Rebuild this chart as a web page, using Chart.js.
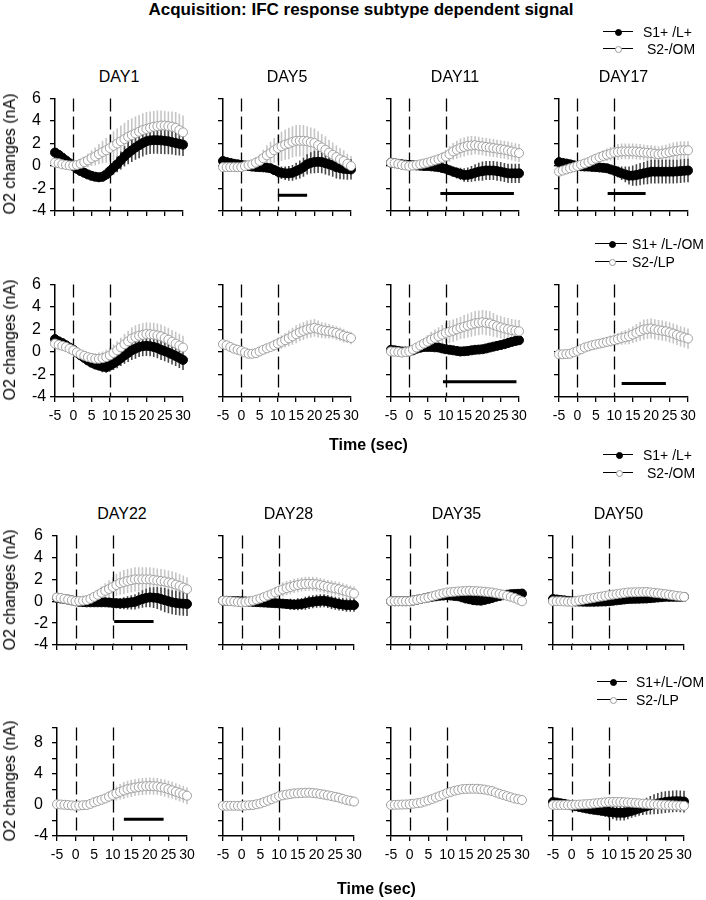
<!DOCTYPE html>
<html>
<head>
<meta charset="utf-8">
<script src="https://cdn.jsdelivr.net/npm/chart.js@4.4.0/dist/chart.umd.min.js"></script>
<style>
  body { margin: 0; background: #fff; font-family: Arial, "Liberation Sans", sans-serif; }
  #page { position: relative; width: 706px; height: 900px; overflow: hidden; }
  #page canvas { position: absolute; }
  .txt { position: absolute; white-space: pre; color: #000; line-height: 1; }
  .ytitle { position: absolute; white-space: nowrap; font-size: 16px; transform: translate(-50%, -50%) rotate(-90deg); }
  .lg-line { position: absolute; height: 0; border-top: 1.5px solid #000; }
  .lg-dot { position: absolute; width: 7px; height: 7px; border-radius: 50%; box-sizing: border-box; }
</style>
</head>
<body>
<div id="page"></div>
<script>
// time axis (sec)
const times = [-5,-4,-3,-2,-1,0,1,2,3,4,5,6,7,8,9,10,11,12,13,14,15,16,17,18,19,20,21,22,23,24,25,26,27,28,29,30];
const xTicks = [-5, 0, 5, 10, 15, 20, 25, 30];

// upper block of each half: S1+ /L+ (fill) vs S2-/OM (open)
const d1_a_fill = [1.2,1.0,0.75,0.5,0.25,0.0, -0.25,-0.45,-0.6,-0.75,-0.87,-0.95,-1.0,-0.95,-0.75,-0.45, -0.15,0.15,0.5,0.85,1.15,1.4,1.65,1.85,2.05,2.2, 2.28,2.3,2.3,2.28,2.25,2.2,2.12,2.05,1.98,1.9];
const d1_a_fill_err = [0.15,0.15,0.15,0.15,0.15,0.15, 0.2,0.25,0.3,0.3,0.35,0.35,0.4,0.45,0.5,0.55, 0.6,0.7,0.8,0.9,1.0,1.05,1.1,1.15,1.2,1.2, 1.2,1.2,1.2,1.2,1.2,1.15,1.1,1.1,1.05,1.0];
const d1_a_open = [0.3,0.25,0.15,0.1,0.05,0.05, 0.1,0.2,0.35,0.5,0.7,0.85,1.05,1.25,1.4,1.6, 1.8,2.0,2.2,2.4,2.6,2.75,2.9,3.05,3.2,3.3, 3.4,3.5,3.55,3.6,3.6,3.55,3.5,3.4,3.2,3.0];
const d1_a_open_err = [0.2,0.2,0.2,0.2,0.2,0.2, 0.3,0.4,0.5,0.6,0.7,0.8,0.9,1.0,1.1,1.2, 1.3,1.35,1.4,1.45,1.5,1.5,1.5,1.5,1.5,1.5, 1.45,1.4,1.4,1.35,1.3,1.3,1.35,1.4,1.45,1.5];

const d5_a_fill = [0.45,0.35,0.28,0.2,0.15,0.1, 0.05,0.0,-0.05,-0.08,-0.1,-0.12,-0.15,-0.2,-0.35,-0.5, -0.6,-0.65,-0.65,-0.6,-0.45,-0.3,-0.1,0.15,0.28,0.35, 0.38,0.35,0.25,0.15,0.05,-0.1,-0.18,-0.25,-0.28,-0.3];
const d5_a_fill_err = [0.15,0.15,0.15,0.15,0.15,0.15, 0.2,0.2,0.25,0.25,0.3,0.3,0.35,0.4,0.45,0.5, 0.55,0.6,0.65,0.7,0.75,0.8,0.85,0.9,0.95,1.0, 1.0,1.0,1.0,1.0,1.0,1.0,1.0,0.95,0.95,0.9];
const d5_a_open = [-0.1,-0.1,-0.1,-0.1,-0.1,-0.1, 0.0,0.08,0.15,0.3,0.45,0.7,0.95,1.15,1.4,1.6, 1.75,1.9,2.0,2.15,2.25,2.25,2.25,2.2,2.12,2.05, 1.85,1.65,1.45,1.2,1.0,0.8,0.6,0.45,0.2,0.0];
const d5_a_open_err = [0.15,0.15,0.15,0.15,0.15,0.15, 0.2,0.3,0.4,0.5,0.6,0.75,0.9,1.0,1.1,1.2, 1.3,1.35,1.4,1.4,1.4,1.4,1.4,1.35,1.3,1.3, 1.25,1.2,1.2,1.15,1.1,1.05,1.0,0.95,0.9,0.9];

const d11_a_fill = [0.3,0.25,0.2,0.15,0.12,0.1, 0.08,0.05,0.03,0.0,0.0,-0.03,-0.06,-0.1,-0.18,-0.25, -0.38,-0.5,-0.6,-0.7,-0.8,-0.78,-0.7,-0.6,-0.5,-0.45, -0.4,-0.4,-0.4,-0.45,-0.5,-0.58,-0.65,-0.65,-0.65,-0.65];
const d11_a_fill_err = [0.15,0.15,0.15,0.15,0.15,0.15, 0.15,0.15,0.15,0.15,0.15,0.2,0.2,0.25,0.3,0.35, 0.4,0.45,0.5,0.55,0.6,0.65,0.7,0.75,0.8,0.85, 0.85,0.85,0.85,0.85,0.85,0.85,0.85,0.85,0.85,0.85];
const d11_a_open = [0.3,0.25,0.18,0.1,0.05,0.0, 0.05,0.1,0.15,0.22,0.3,0.4,0.5,0.6,0.72,0.85, 1.05,1.3,1.45,1.6,1.7,1.8,1.83,1.85,1.8,1.75, 1.7,1.65,1.6,1.55,1.5,1.45,1.38,1.3,1.22,1.15];
const d11_a_open_err = [0.15,0.15,0.15,0.15,0.15,0.15, 0.15,0.15,0.15,0.2,0.25,0.3,0.35,0.4,0.5,0.6, 0.7,0.75,0.8,0.85,0.85,0.85,0.85,0.8,0.8,0.8, 0.8,0.8,0.8,0.8,0.8,0.8,0.8,0.8,0.8,0.8];

const d17_a_fill = [0.35,0.28,0.22,0.15,0.07,0.0, -0.02,-0.04,-0.05,-0.08,-0.1,-0.13,-0.16,-0.2,-0.3,-0.4, -0.52,-0.65,-0.75,-0.85,-0.85,-0.8,-0.72,-0.65,-0.58,-0.5, -0.5,-0.5,-0.5,-0.5,-0.5,-0.5,-0.48,-0.45,-0.42,-0.4];
const d17_a_fill_err = [0.15,0.15,0.15,0.15,0.15,0.15, 0.2,0.2,0.2,0.25,0.25,0.3,0.3,0.35,0.4,0.45, 0.5,0.6,0.7,0.8,0.9,0.95,1.0,1.0,1.05,1.05, 1.05,1.05,1.05,1.05,1.05,1.05,1.05,1.05,1.05,1.05];
const d17_a_open = [-0.5,-0.4,-0.3,-0.2,-0.1,0.0, 0.12,0.23,0.35,0.5,0.65,0.78,0.9,1.0,1.1,1.2, 1.25,1.3,1.3,1.3,1.3,1.28,1.25,1.2,1.18,1.15, 1.1,1.05,1.1,1.15,1.22,1.3,1.35,1.4,1.4,1.4];
const d17_a_open_err = [0.15,0.15,0.15,0.15,0.15,0.15, 0.2,0.25,0.3,0.35,0.4,0.45,0.5,0.55,0.6,0.65, 0.7,0.7,0.7,0.7,0.7,0.7,0.7,0.7,0.7,0.7, 0.7,0.7,0.72,0.75,0.78,0.8,0.8,0.8,0.8,0.8];

// lower block: S1+ /L-/OM (fill) vs S2-/LP (open)
const d1_b_fill = [1.15,0.95,0.8,0.6,0.4,0.2, -0.05,-0.3,-0.52,-0.75,-0.95,-1.1,-1.2,-1.3,-1.35,-1.2, -1.0,-0.8,-0.55,-0.3,-0.08,0.15,0.3,0.45,0.52,0.55, 0.52,0.45,0.35,0.2,0.08,-0.05,-0.2,-0.35,-0.52,-0.7];
const d1_b_fill_err = [0.15,0.15,0.15,0.15,0.15,0.15, 0.2,0.25,0.3,0.35,0.4,0.45,0.45,0.5,0.5,0.55, 0.6,0.65,0.7,0.75,0.8,0.85,0.9,0.9,0.9,0.9, 0.9,0.9,0.9,0.9,0.9,0.9,0.9,0.9,0.9,0.9];
const d1_b_open = [0.75,0.65,0.55,0.45,0.3,0.15, -0.02,-0.2,-0.33,-0.45,-0.53,-0.6,-0.6,-0.55,-0.45,-0.3, -0.08,0.15,0.42,0.7,0.95,1.2,1.33,1.45,1.53,1.6, 1.58,1.55,1.48,1.4,1.25,1.1,0.92,0.75,0.58,0.4];
const d1_b_open_err = [0.2,0.2,0.2,0.2,0.2,0.2, 0.25,0.3,0.35,0.4,0.45,0.5,0.55,0.6,0.65,0.7, 0.75,0.8,0.85,0.9,0.95,1.0,1.05,1.05,1.05,1.05, 1.05,1.05,1.05,1.05,1.05,1.05,1.05,1.05,1.05,1.05];

const d5_b_open = [0.7,0.6,0.45,0.3,0.2,0.1, -0.03,-0.15,-0.15,-0.1,0.05,0.2,0.33,0.45,0.6,0.75, 0.9,1.05,1.22,1.4,1.58,1.75,1.88,2.0,2.08,2.15, 2.05,1.95,1.9,1.85,1.78,1.7,1.58,1.45,1.35,1.25];
const d5_b_open_err = [0.15,0.15,0.15,0.15,0.15,0.15, 0.15,0.15,0.2,0.25,0.3,0.35,0.4,0.45,0.5,0.55, 0.6,0.65,0.7,0.75,0.8,0.8,0.8,0.8,0.8,0.8, 0.75,0.7,0.7,0.65,0.6,0.6,0.6,0.6,0.55,0.55];

const d11_b_fill = [0.2,0.15,0.1,0.05,0.05,0.05, 0.15,0.3,0.38,0.45,0.45,0.45,0.42,0.4,0.32,0.25, 0.2,0.15,0.1,0.05,0.07,0.1,0.15,0.2,0.22,0.25, 0.32,0.4,0.48,0.55,0.62,0.7,0.8,0.9,0.98,1.05];
const d11_b_fill_err = [0.15,0.15,0.15,0.15,0.15,0.15, 0.15,0.15,0.15,0.15,0.15,0.15,0.15,0.15,0.15,0.25, 0.25,0.25,0.25,0.25,0.25,0.25,0.25,0.25,0.25,0.25, 0.25,0.25,0.25,0.28,0.28,0.28,0.3,0.3,0.3,0.3];
const d11_b_open = [0.05,0.02,0.0,-0.05,0.0,0.05, 0.22,0.4,0.58,0.75,0.92,1.1,1.25,1.4,1.55,1.7, 1.8,1.9,2.02,2.15,2.25,2.35,2.45,2.55,2.6,2.65, 2.6,2.55,2.42,2.3,2.2,2.1,2.02,1.95,1.9,1.85];
const d11_b_open_err = [0.15,0.15,0.15,0.15,0.15,0.15, 0.2,0.3,0.4,0.5,0.6,0.7,0.75,0.8,0.85,0.9, 1.0,1.0,1.0,1.0,1.05,1.05,1.1,1.1,1.1,1.1, 1.1,1.1,1.05,1.0,1.0,1.0,1.0,1.0,1.0,1.0];

const d17_b_open = [-0.2,-0.2,-0.18,-0.15,-0.02,0.1, 0.25,0.4,0.5,0.6,0.68,0.75,0.82,0.9,0.98,1.05, 1.15,1.25,1.32,1.4,1.55,1.7,1.85,2.0,2.05,2.1, 2.02,1.95,1.9,1.85,1.75,1.65,1.52,1.4,1.3,1.2];
const d17_b_open_err = [0.15,0.15,0.15,0.15,0.15,0.15, 0.2,0.25,0.3,0.35,0.4,0.4,0.45,0.45,0.5,0.5, 0.55,0.6,0.65,0.7,0.75,0.8,0.85,0.9,0.9,0.9, 0.9,0.9,0.9,0.9,0.9,0.9,0.9,0.9,0.9,0.9];

// second half, upper block
const d22_a_fill = [0.3,0.25,0.2,0.15,0.08,0.0, -0.05,-0.08,-0.1,-0.1,-0.1,-0.1,-0.1,-0.1,-0.12,-0.15, -0.18,-0.2,-0.18,-0.15,-0.1,-0.05,0.08,0.2,0.3,0.35, 0.33,0.3,0.2,0.1,0.0,-0.1,-0.15,-0.2,-0.22,-0.25];
const d22_a_fill_err = [0.1,0.1,0.1,0.1,0.1,0.1, 0.1,0.1,0.1,0.1,0.15,0.2,0.25,0.3,0.35,0.4, 0.45,0.5,0.55,0.6,0.65,0.7,0.75,0.8,0.85,0.9, 0.95,1.0,1.05,1.1,1.1,1.1,1.1,1.1,1.1,1.1];
const d22_a_open = [0.35,0.3,0.22,0.15,0.08,0.0, 0.02,0.05,0.1,0.22,0.4,0.58,0.77,0.95,1.12,1.3, 1.48,1.65,1.75,1.85,1.92,2.0,2.0,2.0,2.0,2.0, 1.95,1.9,1.85,1.8,1.72,1.65,1.52,1.4,1.25,1.1];
const d22_a_open_err = [0.15,0.15,0.15,0.15,0.15,0.15, 0.15,0.15,0.2,0.3,0.4,0.5,0.6,0.7,0.8,0.9, 1.0,1.05,1.1,1.1,1.1,1.1,1.1,1.1,1.1,1.1, 1.1,1.1,1.1,1.1,1.1,1.1,1.1,1.1,1.1,1.1];

const d28_a_fill = [0.05,0.04,0.03,0.02,0.01,0.0, -0.02,-0.04,-0.06,-0.08,-0.1,-0.12,-0.14,-0.16,-0.18,-0.2, -0.22,-0.25,-0.28,-0.3,-0.28,-0.25,-0.18,-0.1,-0.05,0.0, 0.03,0.05,-0.02,-0.1,-0.18,-0.25,-0.3,-0.35,-0.35,-0.35];
const d28_a_fill_err = [0.1,0.1,0.1,0.1,0.1,0.1, 0.1,0.1,0.12,0.14,0.16,0.18,0.2,0.25,0.3,0.35, 0.4,0.45,0.5,0.5,0.55,0.55,0.6,0.6,0.6,0.6, 0.6,0.6,0.6,0.6,0.6,0.6,0.6,0.6,0.6,0.6];
const d28_a_open = [0.05,0.03,0.0,-0.03,-0.07,-0.1, -0.07,-0.02,0.05,0.15,0.25,0.38,0.52,0.65,0.8,0.95, 1.08,1.2,1.3,1.4,1.48,1.55,1.58,1.6,1.58,1.55, 1.48,1.4,1.32,1.25,1.18,1.1,1.0,0.9,0.8,0.7];
const d28_a_open_err = [0.1,0.1,0.1,0.1,0.1,0.1, 0.1,0.1,0.1,0.15,0.2,0.3,0.4,0.45,0.5,0.55, 0.65,0.65,0.65,0.65,0.65,0.65,0.65,0.65,0.65,0.65, 0.65,0.65,0.65,0.65,0.65,0.65,0.65,0.65,0.65,0.65];

const d35_a_fill = [0.0,0.0,0.0,0.0,0.0,0.0, 0.07,0.14,0.21,0.28,0.35,0.4,0.45,0.5,0.52,0.55, 0.52,0.48,0.45,0.35,0.25,0.18,0.1,0.07,0.05,0.12, 0.2,0.3,0.4,0.48,0.55,0.6,0.65,0.67,0.68,0.7];
const d35_a_fill_err = [0.1,0.1,0.1,0.1,0.1,0.1, 0.1,0.12,0.14,0.16,0.18,0.2,0.22,0.24,0.26,0.28, 0.3,0.3,0.3,0.3,0.3,0.3,0.3,0.3,0.3,0.3, 0.3,0.3,0.3,0.3,0.3,0.3,0.3,0.3,0.3,0.3];
const d35_a_open = [0.0,0.0,0.0,0.0,0.0,0.0, 0.07,0.14,0.21,0.28,0.35,0.45,0.55,0.65,0.72,0.8, 0.83,0.87,0.9,0.92,0.93,0.95,0.93,0.92,0.9,0.87, 0.83,0.8,0.73,0.67,0.6,0.5,0.4,0.3,0.15,0.0];
const d35_a_open_err = [0.1,0.1,0.1,0.1,0.1,0.1, 0.12,0.14,0.16,0.18,0.2,0.22,0.24,0.26,0.28,0.3, 0.32,0.34,0.35,0.35,0.35,0.35,0.35,0.35,0.35,0.35, 0.35,0.35,0.35,0.35,0.35,0.35,0.35,0.35,0.35,0.35];

const d50_a_fill = [0.2,0.16,0.12,0.08,0.04,0.0, -0.02,-0.03,-0.04,-0.05,-0.05,-0.05,-0.04,-0.03,-0.02,0.0, 0.04,0.08,0.12,0.16,0.2,0.21,0.22,0.23,0.24,0.25, 0.28,0.31,0.34,0.37,0.4,0.4,0.4,0.4,0.4,0.4];
const d50_a_fill_err = [0.1,0.1,0.1,0.1,0.1,0.1, 0.1,0.1,0.12,0.14,0.16,0.18,0.2,0.2,0.2,0.2, 0.2,0.2,0.2,0.2,0.2,0.2,0.2,0.2,0.2,0.2, 0.2,0.2,0.2,0.2,0.2,0.2,0.2,0.2,0.2,0.2];
const d50_a_open = [0.0,0.0,0.0,-0.02,-0.04,-0.05, 0.01,0.07,0.13,0.19,0.25,0.31,0.37,0.43,0.49,0.55, 0.6,0.65,0.7,0.75,0.8,0.81,0.82,0.83,0.84,0.85, 0.81,0.77,0.73,0.69,0.65,0.6,0.55,0.5,0.45,0.4];
const d50_a_open_err = [0.1,0.1,0.1,0.1,0.1,0.1, 0.12,0.14,0.16,0.18,0.2,0.22,0.24,0.26,0.28,0.3, 0.3,0.3,0.3,0.3,0.3,0.3,0.3,0.3,0.3,0.3, 0.3,0.3,0.3,0.3,0.3,0.3,0.3,0.3,0.3,0.3];

// second half, lower block
const d22_b_open = [0.1,0.07,0.03,0.0,-0.05,-0.1, -0.07,-0.03,0.0,0.15,0.35,0.52,0.68,0.85,1.08,1.3, 1.5,1.7,1.88,2.05,2.15,2.25,2.33,2.4,2.43,2.45, 2.43,2.4,2.3,2.2,2.05,1.9,1.72,1.55,1.38,1.2];
const d22_b_open_err = [0.15,0.15,0.15,0.15,0.15,0.15, 0.15,0.15,0.15,0.2,0.3,0.4,0.5,0.6,0.7,0.8, 0.9,1.0,1.1,1.1,1.1,1.1,1.1,1.1,1.1,1.1, 1.1,1.1,1.1,1.1,1.1,1.1,1.1,1.1,1.1,1.1];
const d28_b_open = [-0.1,-0.1,-0.1,-0.1,-0.1,-0.1, -0.07,-0.03,0.0,0.1,0.2,0.38,0.57,0.75,0.95,1.15, 1.25,1.35,1.42,1.5,1.52,1.55,1.58,1.6,1.55,1.5, 1.42,1.35,1.25,1.15,1.05,0.95,0.8,0.65,0.55,0.45];
const d28_b_open_err = [0.1,0.1,0.1,0.1,0.1,0.1, 0.1,0.1,0.1,0.15,0.2,0.25,0.3,0.35,0.4,0.45, 0.5,0.55,0.6,0.6,0.6,0.6,0.6,0.6,0.6,0.6, 0.6,0.6,0.6,0.6,0.6,0.6,0.6,0.6,0.6,0.6];
const d35_b_open = [0.0,0.02,0.04,0.06,0.08,0.1, 0.17,0.23,0.3,0.45,0.6,0.78,0.97,1.15,1.35,1.55, 1.7,1.85,1.95,2.05,2.08,2.1,2.1,2.1,2.05,2.0, 1.9,1.8,1.62,1.45,1.3,1.15,1.0,0.85,0.75,0.65];
const d35_b_open_err = [0.1,0.1,0.1,0.1,0.1,0.1, 0.1,0.12,0.14,0.16,0.2,0.25,0.3,0.35,0.4,0.45, 0.5,0.5,0.5,0.5,0.5,0.5,0.5,0.5,0.5,0.5, 0.5,0.5,0.5,0.5,0.5,0.5,0.5,0.5,0.5,0.5];
const d50_b_fill = [0.4,0.32,0.23,0.15,0.05,-0.05, -0.15,-0.25,-0.35,-0.45,-0.55,-0.62,-0.68,-0.75,-0.82,-0.9, -0.95,-1.0,-1.0,-1.0,-0.88,-0.75,-0.6,-0.45,-0.3,-0.15, -0.02,0.1,0.2,0.3,0.38,0.45,0.48,0.5,0.48,0.45];
const d50_b_fill_err = [0.15,0.15,0.15,0.15,0.15,0.15, 0.2,0.25,0.3,0.35,0.4,0.45,0.5,0.6,0.7,0.8, 0.9,1.0,1.0,1.0,0.95,0.9,0.9,0.95,1.0,1.1, 1.2,1.3,1.35,1.4,1.4,1.4,1.4,1.4,1.4,1.4];
const d50_b_open = [0.0,0.0,0.0,0.0,0.0,0.0, 0.03,0.06,0.09,0.12,0.15,0.2,0.25,0.3,0.35,0.4, 0.4,0.4,0.4,0.37,0.33,0.3,0.26,0.22,0.18,0.15, 0.12,0.09,0.06,0.03,0.0,-0.02,-0.04,-0.06,-0.08,-0.1];
const d50_b_open_err = [0.1,0.1,0.1,0.1,0.1,0.1, 0.12,0.14,0.16,0.18,0.2,0.22,0.25,0.28,0.3,0.32, 0.35,0.35,0.35,0.35,0.35,0.35,0.35,0.35,0.35,0.35, 0.4,0.4,0.4,0.4,0.4,0.4,0.4,0.4,0.4,0.4];

// significance bars [from sec, to sec, level nA]
const sig_d5_a = [10, 18, -2.6];
const sig_d11_a = [8.5, 28.6, -2.45];
const sig_d17_a = [8.2, 18.5, -2.45];
const sig_d11_b = [9.2, 29.3, -2.65];
const sig_d17_b = [12, 24, -2.8];
const sig_d22_a = [10.4, 21, -1.85];
const sig_d22_b = [13, 23.7, -1.85];

const markers = [0, 10];   // dashed lines (sec)

// plot area boxes in page px: rows [top, bottom], columns [left, right]
const rowBox = [[97, 211], [283, 397], [534, 645], [726, 836]];
const colBoxTop = [[55, 183], [223, 351], [391, 519], [559, 688]];
const colBoxBottom = [[57, 187], [223, 354], [391, 522], [553, 684]];

const panels = [
  {r:0, c:0, title:'DAY1',  fill:d1_a_fill,  fillErr:d1_a_fill_err,  open:d1_a_open,  openErr:d1_a_open_err},
  {r:0, c:1, title:'DAY5',  fill:d5_a_fill,  fillErr:d5_a_fill_err,  open:d5_a_open,  openErr:d5_a_open_err, sig:sig_d5_a},
  {r:0, c:2, title:'DAY11', fill:d11_a_fill, fillErr:d11_a_fill_err, open:d11_a_open, openErr:d11_a_open_err, sig:sig_d11_a},
  {r:0, c:3, title:'DAY17', fill:d17_a_fill, fillErr:d17_a_fill_err, open:d17_a_open, openErr:d17_a_open_err, sig:sig_d17_a},
  {r:1, c:0, fill:d1_b_fill,  fillErr:d1_b_fill_err,  open:d1_b_open,  openErr:d1_b_open_err},
  {r:1, c:1, open:d5_b_open,  openErr:d5_b_open_err},
  {r:1, c:2, fill:d11_b_fill, fillErr:d11_b_fill_err, open:d11_b_open, openErr:d11_b_open_err, sig:sig_d11_b},
  {r:1, c:3, open:d17_b_open, openErr:d17_b_open_err, sig:sig_d17_b},
  {r:2, c:0, title:'DAY22', fill:d22_a_fill, fillErr:d22_a_fill_err, open:d22_a_open, openErr:d22_a_open_err, sig:sig_d22_a},
  {r:2, c:1, title:'DAY28', fill:d28_a_fill, fillErr:d28_a_fill_err, open:d28_a_open, openErr:d28_a_open_err},
  {r:2, c:2, title:'DAY35', fill:d35_a_fill, fillErr:d35_a_fill_err, open:d35_a_open, openErr:d35_a_open_err},
  {r:2, c:3, title:'DAY50', fill:d50_a_fill, fillErr:d50_a_fill_err, open:d50_a_open, openErr:d50_a_open_err},
  {r:3, c:0, open:d22_b_open, openErr:d22_b_open_err, sig:sig_d22_b},
  {r:3, c:1, open:d28_b_open, openErr:d28_b_open_err},
  {r:3, c:2, open:d35_b_open, openErr:d35_b_open_err},
  {r:3, c:3, fill:d50_b_fill, fillErr:d50_b_fill_err, open:d50_b_open, openErr:d50_b_open_err}
];

Chart.defaults.font.family = 'Arial, "Liberation Sans", sans-serif';
Chart.defaults.color = '#000';

const page = document.getElementById('page');

function addText(str, x, y, css) {
  const d = document.createElement('div');
  d.className = 'txt';
  d.textContent = str;
  d.style.left = x + 'px';
  d.style.top = y + 'px';
  Object.assign(d.style, css || {});
  page.appendChild(d);
  return d;
}

// error bars, dashed markers and significance bars
const extras = {
  id: 'extras',
  beforeDatasetsDraw(chart) {
    const {ctx, chartArea, scales: {x, y}} = chart;
    ctx.save();
    // open series bars first, filled series on top
    const ordered = chart.data.datasets.slice().sort((a, b) => (a.filled ? 1 : 0) - (b.filled ? 1 : 0));
    ordered.forEach(ds => {
      ctx.strokeStyle = ds.errColor;
      ctx.lineWidth = 1.6;
      ctx.beginPath();
      ds.data.forEach((p, i) => {
        const px = x.getPixelForValue(p.x);
        ctx.moveTo(px, y.getPixelForValue(p.y + ds.err[i]));
        ctx.lineTo(px, y.getPixelForValue(p.y - ds.err[i]));
      });
      ctx.stroke();
    });
    ctx.strokeStyle = '#000';
    ctx.lineWidth = 1.3;
    ctx.setLineDash([13, 5]);
    markers.forEach(m => {
      const px = Math.round(x.getPixelForValue(m)) + 0.5;
      ctx.beginPath();
      ctx.moveTo(px, chartArea.top);
      ctx.lineTo(px, chartArea.bottom);
      ctx.stroke();
    });
    ctx.restore();
  },
  afterDatasetsDraw(chart, args, opts) {
    if (!opts.sig) return;
    const {ctx, scales: {x, y}} = chart;
    const [a, b, lvl] = opts.sig;
    ctx.save();
    ctx.strokeStyle = '#000';
    ctx.lineWidth = 3;
    ctx.beginPath();
    ctx.moveTo(x.getPixelForValue(a), y.getPixelForValue(lvl));
    ctx.lineTo(x.getPixelForValue(b), y.getPixelForValue(lvl));
    ctx.stroke();
    ctx.restore();
  }
};

// y labels sit left-aligned about 23px left of the axis
const padOut = 27, yW = 23, padT = 10, padR = 14, padB = 30;

panels.forEach(p => {
  const [T, B] = rowBox[p.r];
  const [L, R] = (p.r < 2 ? colBoxTop : colBoxBottom)[p.c];
  const canvas = document.createElement('canvas');
  canvas.width = (R - L) + padOut + yW + padR;
  canvas.height = (B - T) + padT + padB;
  canvas.style.left = (L - padOut - yW) + 'px';
  canvas.style.top = (T - padT) + 'px';
  page.appendChild(canvas);

  const datasets = [];
  if (p.open) {
    datasets.push({
      data: p.open.map((v, i) => ({x: times[i], y: v})),
      err: p.openErr, errColor: '#c6c6c6', filled: false,
      borderColor: '#a0a0a0', borderWidth: 1,
      pointRadius: 4.5, pointBorderWidth: 1,
      pointBackgroundColor: '#fff', pointBorderColor: '#a0a0a0',
      clip: false, order: 0
    });
  }
  if (p.fill) {
    datasets.push({
      data: p.fill.map((v, i) => ({x: times[i], y: v})),
      err: p.fillErr, errColor: '#484848', filled: true,
      borderColor: '#000', borderWidth: 1,
      pointRadius: 4.5, pointBorderWidth: 1,
      pointBackgroundColor: '#000', pointBorderColor: '#000',
      clip: false, order: 1
    });
  }

  const firstCol = p.c === 0;
  const showX = p.r === 1 || p.r === 3;
  const yMax = p.r === 3 ? 10 : 6;

  new Chart(canvas, {
    type: 'line',
    data: {datasets},
    options: {
      responsive: false,
      animation: false,
      events: [],
      layout: {padding: {left: padOut, top: padT, right: padR, bottom: 0}},
      plugins: {legend: {display: false}, tooltip: {enabled: false}, extras: {sig: p.sig}},
      scales: {
        x: {
          type: 'linear', min: -5, max: 30,
          afterBuildTicks: s => { s.ticks = xTicks.map(v => ({value: v})); },
          ticks: {
            autoSkip: false, maxRotation: 0, padding: 6, color: '#000',
            font: {size: 14},
            callback: v => showX ? String(v) : ''
          },
          grid: {drawOnChartArea: false, drawTicks: true, tickLength: 5, color: '#000', lineWidth: 1.3},
          border: {display: true, color: '#000', width: 1.5},
          afterFit: s => { s.height = padB; }
        },
        y: {
          type: 'linear', min: -4, max: yMax,
          ticks: {
            stepSize: 2, autoSkip: false, padding: 2, color: '#000',
            crossAlign: 'far',
            font: {size: 16},
            callback: v => {
              if (!firstCol) return '';
              if (p.r === 3) return (v % 4 === 0 && v < 10) ? String(v) : '';
              return String(v);
            }
          },
          grid: {drawOnChartArea: false, drawTicks: true, tickLength: 5, color: '#000', lineWidth: 1.3},
          border: {display: true, color: '#000', width: 1.5},
          afterFit: s => { s.width = yW; }
        }
      }
    },
    plugins: [extras]
  });

  if (p.title) {
    addText(p.title, (L + R) / 2, T - 28, {fontSize: '16px', transform: 'translateX(-50%)'});
  }
  if (firstCol) {
    const yt = document.createElement('div');
    yt.className = 'ytitle';
    yt.textContent = 'O2 changes (nA)';
    yt.style.left = '10px';
    yt.style.top = ((T + B) / 2) + 'px';
    page.appendChild(yt);
  }
});

// titles
addText('Acquisition: IFC response subtype dependent signal', 361, 1, {fontSize: '17px', fontWeight: 'bold', transform: 'translateX(-50%)'});
addText('Time (sec)', 329, 437, {fontSize: '16px', fontWeight: 'bold'});
addText('Time (sec)', 337, 881, {fontSize: '16px', fontWeight: 'bold'});

// legends
function legend(x0, x1, mx, tx, y1, y2, lab1, lab2) {
  [[y1, lab1, true], [y2, lab2, false]].forEach(([yy, lab, filled]) => {
    const ln = document.createElement('div');
    ln.className = 'lg-line';
    ln.style.left = x0 + 'px';
    ln.style.width = (x1 - x0) + 'px';
    ln.style.top = (yy - 0.75) + 'px';
    page.appendChild(ln);
    const dot = document.createElement('div');
    dot.className = 'lg-dot';
    dot.style.left = (mx - 3.5) + 'px';
    dot.style.top = (yy - 3.5) + 'px';
    dot.style.background = filled ? '#000' : '#fff';
    dot.style.border = filled ? '1px solid #000' : '1px solid #9a9a9a';
    page.appendChild(dot);
    addText(lab, tx, yy - 7, {fontSize: '14px'});
  });
}
legend(603, 633, 618, 643, 32, 49, 'S1+ /L+', ' S2-/OM');
legend(595, 627, 612, 632, 244, 262, 'S1+ /L-/OM', 'S2-/LP');
legend(603, 633, 619, 643, 455, 473, 'S1+ /L+', ' S2-/OM');
legend(597, 627, 613, 636, 682, 700, 'S1+/L-/OM', 'S2-/LP');
</script>
</body>
</html>
